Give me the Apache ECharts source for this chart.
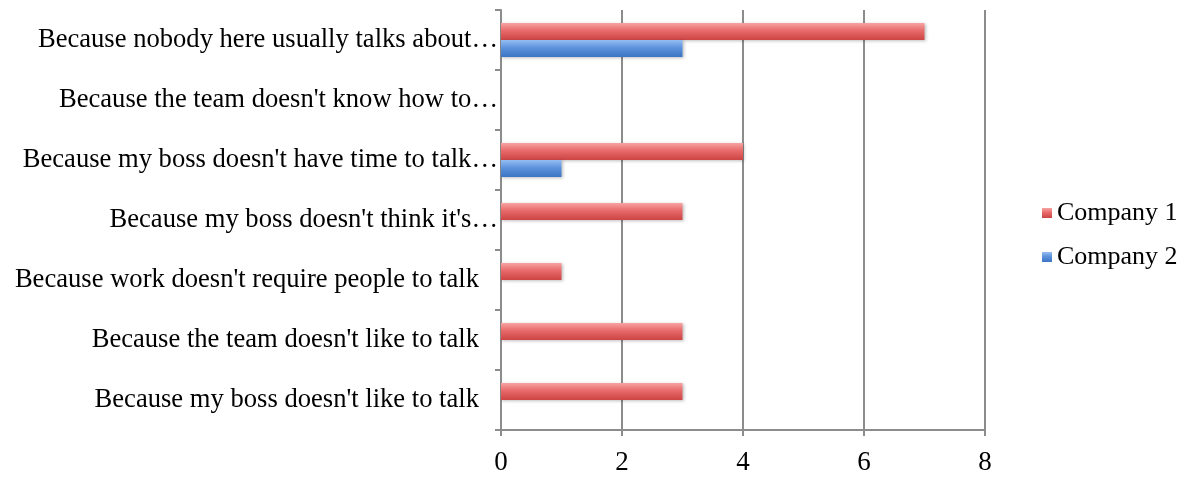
<!DOCTYPE html>
<html>
<head>
<meta charset="utf-8">
<script src="https://cdn.jsdelivr.net/npm/echarts@6/dist/echarts.min.js"></script>
<style>
  html, body { margin: 0; padding: 0; background: #fff; }
  #chart { width: 1190px; height: 477px; }
</style>
</head>
<body>
<div id="chart"></div>
<script>
// Reasons, listed top to bottom
const categories = [
  "Because nobody here usually talks about\u2026",
  "Because the team doesn't know how to\u2026",
  "Because my boss doesn't have time to talk\u2026",
  "Because my boss doesn't think it's\u2026",
  "Because work doesn't require people to talk",
  "Because the team doesn't like to talk",
  "Because my boss doesn't like to talk"
];
const company1 = [7, 0, 4, 3, 1, 3, 3];
const company2 = [3, 0, 1, 0, 0, 0, 0];
const seriesNames = ["Company 1", "Company 2"];
const xTicks = [0, 2, 4, 6, 8];

const FONT = "'Liberation Serif', 'Times New Roman', serif";

function barGradient(top, mid, bottom) {
  return new echarts.graphic.LinearGradient(0, 0, 0, 1, [
    { offset: 0, color: top },
    { offset: 0.45, color: mid },
    { offset: 1, color: bottom }
  ]);
}

const chart = echarts.init(document.getElementById('chart'));
chart.setOption({
  animation: false,
  backgroundColor: '#ffffff',
  grid: { left: 501, right: 205, top: 10, bottom: 47, containLabel: false },
  legend: {
    data: seriesNames,
    orient: 'vertical',
    left: 1037,
    top: 195,
    itemWidth: 10,
    itemHeight: 10,
    itemGap: 18,
    icon: 'rect',
    textStyle: { fontFamily: FONT, fontSize: 26, color: '#000' }
  },
  xAxis: {
    type: 'value',
    min: xTicks[0],
    max: xTicks[xTicks.length - 1],
    interval: 2,
    axisLine: { show: true, lineStyle: { color: '#8c8c8c', width: 2 } },
    axisTick: { show: true, length: 6, lineStyle: { color: '#8c8c8c', width: 2 } },
    axisLabel: { fontFamily: FONT, fontSize: 27, color: '#000', margin: 19 },
    splitLine: { show: true, lineStyle: { color: '#8c8c8c', width: 2 } }
  },
  yAxis: {
    type: 'category',
    inverse: true,
    data: categories.map(c => ({
      value: c,
      textStyle: { padding: c.endsWith('\u2026') ? [0, 0, 0, 0] : [0, 19, 0, 0] }
    })),
    axisLine: { show: true, lineStyle: { color: '#8c8c8c', width: 2 } },
    axisTick: { show: true, length: 6, lineStyle: { color: '#8c8c8c', width: 2 } },
    axisLabel: { fontFamily: FONT, fontSize: 26.6, color: '#000', margin: 3 },
    splitLine: { show: false }
  },
  series: [
    {
      name: seriesNames[0],
      type: 'bar',
      data: company1,
      barWidth: 17,
      barGap: '0%',
      barCategoryGap: '43%',
      itemStyle: {
        color: barGradient('#f7a3a3', '#e86a6a', '#cc4444'),
        shadowColor: 'rgba(0,0,0,0.25)',
        shadowBlur: 3,
        shadowOffsetX: 1,
        shadowOffsetY: 1
      }
    },
    {
      name: seriesNames[1],
      type: 'bar',
      data: company2,
      barWidth: 17,
      barGap: '0%',
      itemStyle: {
        color: barGradient('#96bdf2', '#5e93dc', '#3a74c4'),
        shadowColor: 'rgba(0,0,0,0.25)',
        shadowBlur: 3,
        shadowOffsetX: 1,
        shadowOffsetY: 1
      }
    }
  ]
});
</script>
</body>
</html>
